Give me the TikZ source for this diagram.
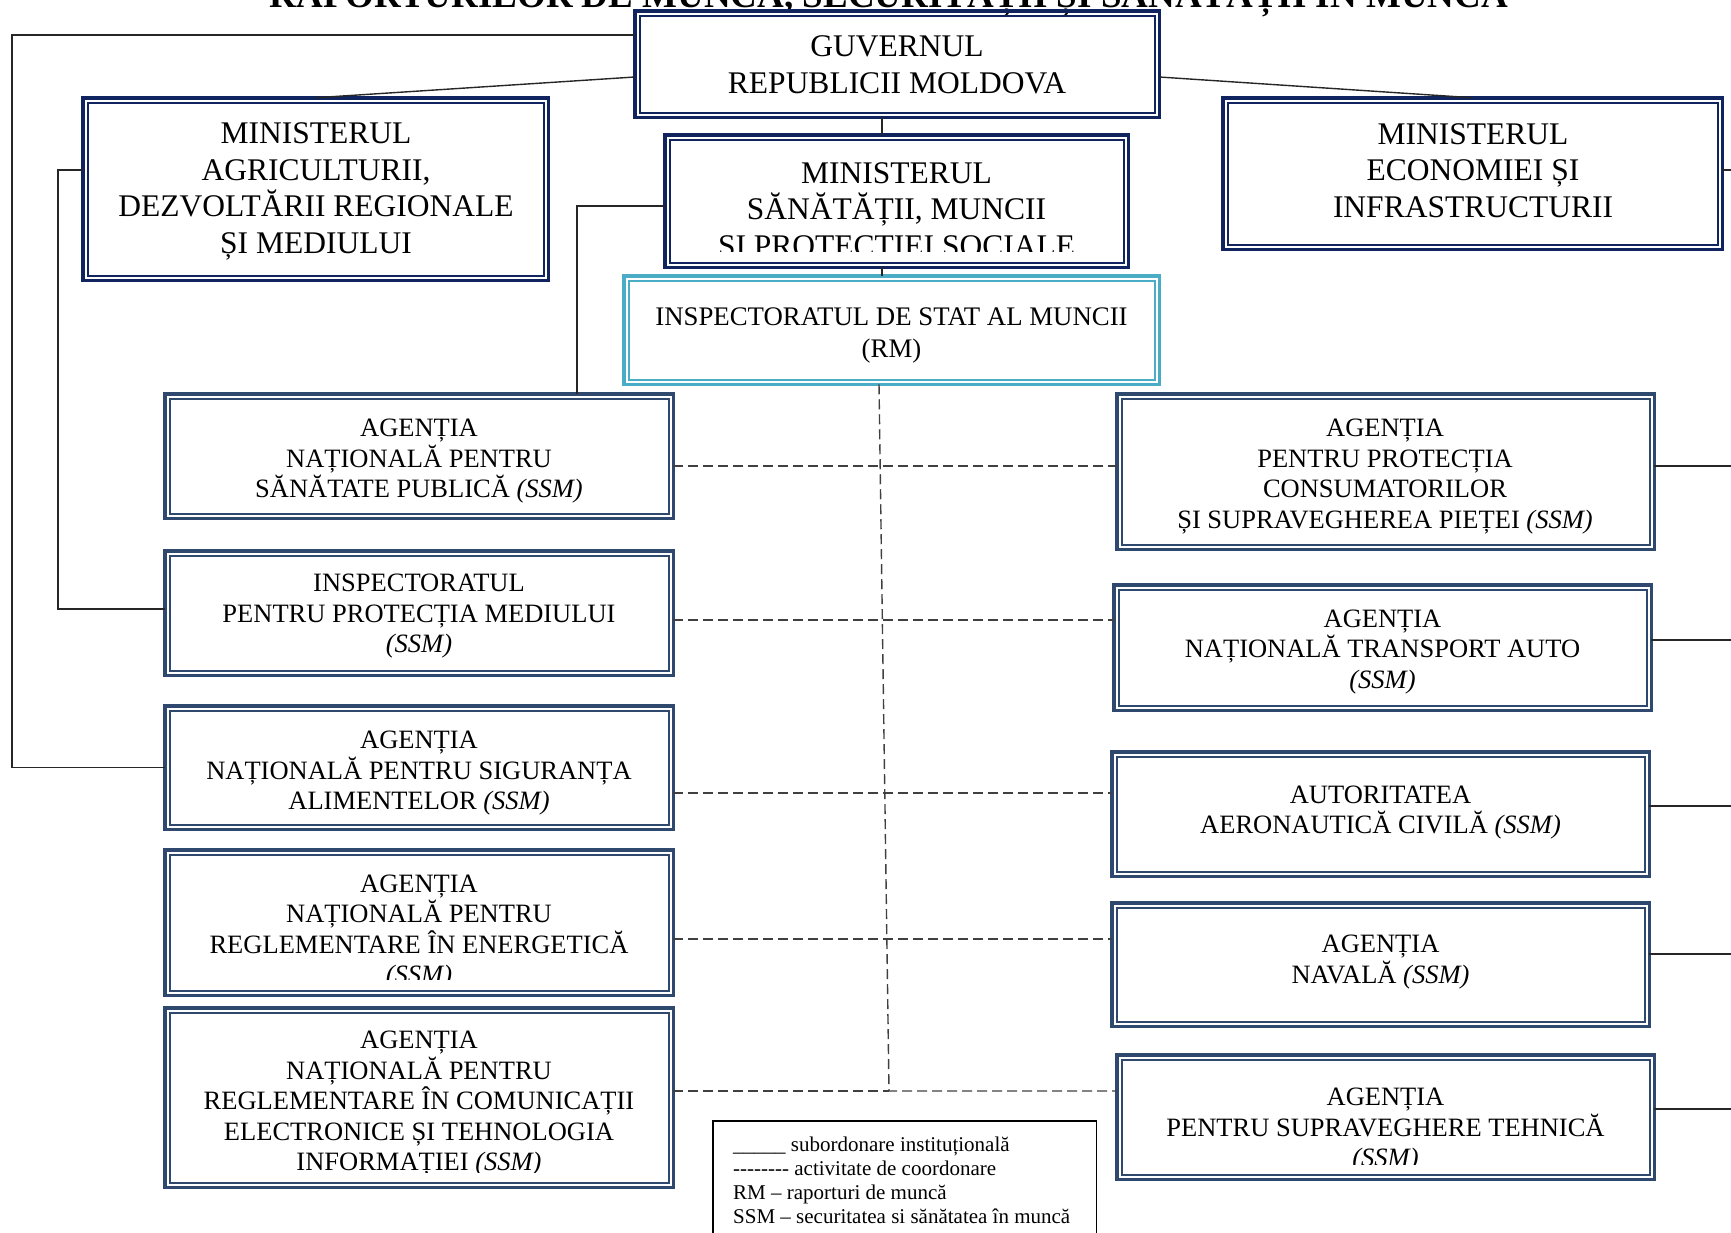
\documentclass[tikz,border=0pt]{standalone}
\usepackage{fontspec}
\setmainfont{Liberation Serif}
\definecolor{navy}{RGB}{16,37,96}
\definecolor{agblue}{RGB}{46,72,110}
\definecolor{ismcyan}{RGB}{75,172,198}
\newcommand\MinFont{\fontsize{31.5}{36.5}\selectfont}
\newcommand\AgFont{\fontsize{26.5}{30.5}\selectfont}
\newcommand\IsmFont{\fontsize{26.8}{31.5}\selectfont}
\newcommand\LegFont{\fontsize{21}{24.3}\selectfont}
\newcommand\TopStrut{\rule{0pt}{0.95em}}
\newcommand\BotStrut{\rule[-0.3em]{0pt}{0pt}}
\tikzset{
  box/.style={draw=#1, line width=3.5pt, inner sep=0pt, outer sep=0pt},
  btext/.style={align=center, inner sep=0pt, execute at begin node=\TopStrut, execute at end node=\BotStrut},
  sub/.style={draw=black!85, line width=1.4pt},
  coord/.style={draw=black!75, line width=1.4pt, dash pattern=on 10pt off 5pt},
}
\begin{document}
\begin{tikzpicture}[x=1pt,y=-1pt]
\useasboundingbox (0,0) rectangle (1731,1232);

% title (cut by the page top, as in the source)
\node[font=\bfseries\fontsize{37}{40}\selectfont, anchor=base, inner sep=0pt] (title) at (889,7) {RAPORTURILOR DE MUNCĂ, SECURITĂȚII ȘI SĂNĂTĂȚII ÎN MUNCĂ};

% boxes
\node[box=navy, minimum width=524.5pt, minimum height=106.5pt] (gov) at (897,64) {};
\node[box=navy, minimum width=465.5pt, minimum height=182.5pt] (agri) at (315.5,189) {};
\node[box=navy, minimum width=463.5pt, minimum height=132.5pt] (hm) at (896.5,201) {};
\node[box=navy, minimum width=499.5pt, minimum height=151.5pt] (econ) at (1472.5,173.5) {};
\node[box=ismcyan, minimum width=535.5pt, minimum height=108.5pt] (ism) at (891.5,330) {};
\node[box=agblue, minimum width=508.5pt, minimum height=124.5pt] (a1) at (419,456) {};
\node[box=agblue, minimum width=508.5pt, minimum height=124.5pt] (a2) at (419,613) {};
\node[box=agblue, minimum width=508.5pt, minimum height=123.5pt] (a3) at (419,767.5) {};
\node[box=agblue, minimum width=508.5pt, minimum height=145.5pt] (a4) at (419,922.5) {};
\node[box=agblue, minimum width=508.5pt, minimum height=179.5pt] (a5) at (419,1097.5) {};
\node[box=agblue, minimum width=537.5pt, minimum height=155.5pt] (b1) at (1385.5,471.5) {};
\node[box=agblue, minimum width=537.5pt, minimum height=125.5pt] (b2) at (1382.5,647.5) {};
\node[box=agblue, minimum width=537.5pt, minimum height=124.5pt] (b3) at (1380.5,814) {};
\node[box=agblue, minimum width=537.5pt, minimum height=123.5pt] (b4) at (1380.5,964.5) {};
\node[box=agblue, minimum width=537.5pt, minimum height=124.5pt] (b5) at (1385.5,1117) {};
\foreach \n/\c in {gov/navy,agri/navy,hm/navy,econ/navy,ism/ismcyan,a1/agblue,a2/agblue,a3/agblue,a4/agblue,a5/agblue,b1/agblue,b2/agblue,b3/agblue,b4/agblue,b5/agblue}
  \draw[draw=\c, line width=2pt] ([xshift=4.75pt,yshift=-4.75pt]\n.north west) rectangle ([xshift=-4.75pt,yshift=4.75pt]\n.south east);

% texts
\node[btext, font=\MinFont] (govt) at (897,69.5) {GUVERNUL\\REPUBLICII MOLDOVA};
\node[btext, font=\MinFont] (agrit) at (316,193) {MINISTERUL\\AGRICULTURII,\\DEZVOLTĂRII REGIONALE\\ȘI MEDIULUI};
\begin{scope}
\clip (650,120) rectangle (1140,251.7);
\node[btext, font=\MinFont] (hmt) at (896.5,214) {MINISTERUL\\SĂNĂTĂȚII, MUNCII\\ȘI PROTECȚIEI SOCIALE};
\end{scope}
\node[btext, font=\MinFont] (econt) at (1473,175) {MINISTERUL\\ECONOMIEI ȘI\\INFRASTRUCTURII};
\node[btext, font=\IsmFont] (ismt) at (891.5,336.5) {INSPECTORATUL DE STAT AL MUNCII\\(RM)};
\node[btext, font=\AgFont] (a1t) at (419,462.5) {AGENȚIA\\NAȚIONALĂ PENTRU\\SĂNĂTATE PUBLICĂ \textit{(SSM)}};
\node[btext, font=\AgFont] (a2t) at (419,617.5) {INSPECTORATUL\\PENTRU PROTECȚIA MEDIULUI\\\textit{(SSM)}};
\node[btext, font=\AgFont] (a3t) at (419,774.5) {AGENȚIA\\NAȚIONALĂ PENTRU SIGURANȚA\\ALIMENTELOR \textit{(SSM)}};
\begin{scope}
\clip (160,840) rectangle (680,979.3);
\node[btext, font=\AgFont] (a4t) at (419,933) {AGENȚIA\\NAȚIONALĂ PENTRU\\REGLEMENTARE ÎN ENERGETICĂ\\\textit{(SSM)}};
\end{scope}
\begin{scope}
\clip (160,1000) rectangle (680,1172);
\node[btext, font=\AgFont] (a5t) at (419,1105) {AGENȚIA\\NAȚIONALĂ PENTRU\\REGLEMENTARE ÎN COMUNICAȚII\\ELECTRONICE ȘI TEHNOLOGIA\\INFORMAȚIEI \textit{(SSM)}};
\end{scope}
\node[btext, font=\AgFont] (b1t) at (1385,477.5) {AGENȚIA\\PENTRU PROTECȚIA\\CONSUMATORILOR\\ȘI SUPRAVEGHEREA PIEȚEI \textit{(SSM)}};
\node[btext, font=\AgFont] (b2t) at (1382.5,653) {AGENȚIA\\NAȚIONALĂ TRANSPORT AUTO\\\textit{(SSM)}};
\node[btext, font=\AgFont] (b3t) at (1380.5,813.5) {AUTORITATEA\\AERONAUTICĂ CIVILĂ \textit{(SSM)}};
\node[btext, font=\AgFont] (b4t) at (1380.5,963) {AGENȚIA\\NAVALĂ \textit{(SSM)}};
\begin{scope}
\clip (1110,1050) rectangle (1660,1164);
\node[btext, font=\AgFont] (b5t) at (1385.5,1131.5) {AGENȚIA\\PENTRU SUPRAVEGHERE TEHNICĂ\\\textit{(SSM)}};
\end{scope}

% legend
\node[draw=black, line width=1.5pt, minimum width=383.5pt, minimum height=140pt, inner sep=0pt] (legend) at (904.5,1190.75) {};
\node[anchor=north west, align=left, inner sep=0pt, font=\LegFont, execute at begin node=\TopStrut] (legt) at (733,1136.25)
 {\_\_\_\_\_ subordonare instituțională\\
  -\kern0pt-\kern0pt-\kern0pt-\kern0pt-\kern0pt-\kern0pt-\kern0pt- activitate de coordonare\\
  RM – raporturi de muncă\\
  SSM – securitatea si sănătatea în muncă};

% subordination (solid) connectors
\coordinate (gy) at (0,77);
\draw[sub] (gov.west |- gy) -- (agri.north);
\draw[sub] (gov.east |- gy) -- (econ.north);
\coordinate (lf) at (12,35);
\draw[sub] (gov.west |- lf) -- (lf) |- (a3.west);
\coordinate (la) at (58,170);
\coordinate (la2) at (58,609);
\draw[sub] (agri.west |- la) -- (la) -- (la2) -- (a2.west |- la2);
\coordinate (lh) at (577,206);
\draw[sub] (hm.west |- lh) -- (lh) -- (lh |- a1.north);
\coordinate (vx) at (882,0);
\draw[sub] (gov.south -| vx) -- (hm.north -| vx);
\draw[sub] (hm.south -| vx) -- (ism.north -| vx);
\coordinate (re) at (1731,170);
\draw[sub] (econ.east |- re) -- (re);
\coordinate (r1) at (1731,466);
\coordinate (r2) at (1731,640);
\coordinate (r3) at (1731,806);
\coordinate (r4) at (1731,954);
\coordinate (r5) at (1731,1109);
\draw[sub] (b1.east |- r1) -- (r1);
\draw[sub] (b2.east |- r2) -- (r2);
\draw[sub] (b3.east |- r3) -- (r3);
\draw[sub] (b4.east |- r4) -- (r4);
\draw[sub] (b5.east |- r5) -- (r5);

% coordination (dashed) connectors
\coordinate (d1) at (0,466);
\coordinate (d2) at (0,620);
\coordinate (d3) at (0,793);
\coordinate (d4) at (0,939);
\draw[coord] (a1.east |- d1) -- (b1.west |- d1);
\draw[coord] (a2.east |- d2) -- (b2.west |- d2);
\draw[coord] (a3.east |- d3) -- (b3.west |- d3);
\draw[coord] (a4.east |- d4) -- (b4.west |- d4);
\coordinate (dt) at (879,0);
\coordinate (dv) at (889,1091);
\draw[coord] (ism.south -| dt) -- (dv) -- (b5.west |- dv);
\draw[coord] (a5.east |- dv) -- (dv);
\end{tikzpicture}
\end{document}
